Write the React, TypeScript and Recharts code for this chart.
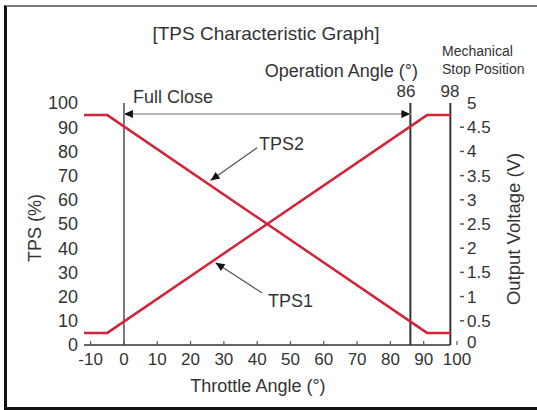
import { Line, LineChart, ReferenceLine, XAxis, YAxis } from "recharts";

// throttle angle (deg) at the break points of both sensor curves
const angles = [-12, -5, 91, 98];
const tps1 = [5, 5, 95, 95];
const tps2 = [95, 95, 5, 5];

const angleTicks = [-10, 0, 10, 20, 30, 40, 50, 60, 70, 80, 90, 100];
const tpsTicks = [0, 10, 20, 30, 40, 50, 60, 70, 80, 90, 100];
const voltTicks = [0, 0.5, 1, 1.5, 2, 2.5, 3, 3.5, 4, 4.5, 5];

const fullClose = 0;
const operationEnd = 86;
const mechanicalStop = 98;

const data = angles.map((angle, i) => ({ angle, tps1: tps1[i], tps2: tps2[i] }));

const RED = "#d1253c";
const INK = "#333";
const FONT = "'Liberation Sans', Arial, sans-serif";

function arrowShape(stroke: string, width: number, startHead: boolean, endHead: boolean) {
  return (p: any) => {
    const { x1, y1, x2, y2 } = p;
    const a = Math.atan2(y2 - y1, x2 - x1);
    const head = (x: number, y: number, dir: number) => {
      const len = 9;
      const half = 4;
      const bx = x - Math.cos(dir) * len;
      const by = y - Math.sin(dir) * len;
      const px = -Math.sin(dir) * half;
      const py = Math.cos(dir) * half;
      return <polygon points={`${x},${y} ${bx + px},${by + py} ${bx - px},${by - py}`} fill="#111" />;
    };
    return (
      <g>
        <line x1={x1} y1={y1} x2={x2} y2={y2} stroke={stroke} strokeWidth={width} />
        {startHead && head(x1, y1, a + Math.PI)}
        {endHead && head(x2, y2, a)}
      </g>
    );
  };
}

const AngleTick = (props: any) => {
  const { x, y, payload } = props;
  return (
    <g>
      <line x1={x} x2={x} y1={y - 4} y2={y} stroke="#555" strokeWidth={1.2} />
      <text x={x} y={y + 20} textAnchor="middle" fontSize={17} fill={INK} fontFamily={FONT}>
        {payload.value}
      </text>
    </g>
  );
};

const VoltTick = (props: any) => {
  const { x, y, payload } = props;
  const v = payload.value;
  const dash = v > 0 && v < 5;
  // the bottom label sits a little high so it clears the "100" angle tick
  const lift = v === 0 ? -3 : 0;
  return (
    <g>
      {dash && <line x1={x + 3} x2={x + 7} y1={y} y2={y} stroke="#555" strokeWidth={1.5} />}
      <text x={x + 10} y={y + lift} dy="0.35em" textAnchor="start" fontSize={17} fill={INK} fontFamily={FONT}>
        {v}
      </text>
    </g>
  );
};

export default function App() {
  return (
    <div style={{ position: "absolute", left: 0, top: 0, width: 537, height: 410, background: "#fff", overflow: "hidden" }}>
      <div
        style={{
          position: "absolute",
          left: 4,
          top: 5,
          width: 560,
          height: 400,
          borderLeft: "3px solid #111",
          borderTop: "2px solid #777",
          borderBottom: "3px solid #111"
        }}
      />
      <div style={{ position: "absolute", left: 0, top: 0 }}>
        <LineChart width={537} height={410} data={data} margin={{ top: 103, right: 40, bottom: 35, left: 24 }}>
          <XAxis
            dataKey="angle"
            type="number"
            domain={[-12, 100]}
            ticks={angleTicks}
            interval={0}
            axisLine={false}
            tickLine={false}
            tickSize={0}
            tickMargin={0}
            height={30}
            tick={<AngleTick />}
          />
          <YAxis
            yAxisId="tps"
            type="number"
            domain={[0, 100]}
            ticks={tpsTicks}
            interval={0}
            axisLine={false}
            tickLine={false}
            tickSize={0}
            tickMargin={6}
            width={60}
            tick={{ fontSize: 18, fill: INK, fontFamily: FONT }}
          />
          <YAxis
            yAxisId="volt"
            type="number"
            orientation="right"
            domain={[0, 5]}
            allowDataOverflow
            ticks={voltTicks}
            interval={0}
            axisLine={false}
            tickLine={false}
            tickSize={0}
            tickMargin={0}
            width={40}
            tick={<VoltTick />}
          />
          <ReferenceLine
            yAxisId="tps"
            segment={[{ x: -12, y: 0 }, { x: mechanicalStop, y: 0 }]}
            stroke="#666"
            strokeWidth={2}
          />
          <ReferenceLine yAxisId="tps" x={fullClose} stroke="#222" strokeWidth={1.2} />
          <ReferenceLine yAxisId="tps" x={operationEnd} stroke="#333" strokeWidth={2} />
          <ReferenceLine yAxisId="tps" x={mechanicalStop} stroke="#333" strokeWidth={2} />
          <ReferenceLine
            yAxisId="tps"
            segment={[{ x: fullClose, y: 95.5 }, { x: operationEnd, y: 95.5 }]}
            shape={arrowShape("#b5b5b5", 2, true, true)}
          />
          <ReferenceLine
            yAxisId="tps"
            segment={[{ x: 40, y: 81.5 }, { x: 26, y: 68 }]}
            shape={arrowShape("#555", 1.2, false, true)}
          />
          <ReferenceLine
            yAxisId="tps"
            segment={[{ x: 41.5, y: 21.5 }, { x: 27.5, y: 34 }]}
            shape={arrowShape("#555", 1.2, false, true)}
          />
          <Line yAxisId="tps" type="linear" dataKey="tps1" stroke={RED} strokeWidth={2.5} dot={false} isAnimationActive={false} />
          <Line yAxisId="tps" type="linear" dataKey="tps2" stroke={RED} strokeWidth={2.5} dot={false} isAnimationActive={false} />
        </LineChart>
      </div>
      <svg
        width={537}
        height={410}
        style={{ position: "absolute", left: 0, top: 0, pointerEvents: "none" }}
        fontFamily={FONT}
        fill={INK}
      >
        <text x={266} y={40} textAnchor="middle" fontSize={19}>[TPS Characteristic Graph]</text>
        <text x={418} y={77} textAnchor="end" fontSize={18}>Operation Angle (°)</text>
        <text x={442} y={56} fontSize={14}>Mechanical</text>
        <text x={442} y={74} fontSize={14}>Stop Position</text>
        <text x={406} y={97} textAnchor="middle" fontSize={17}>86</text>
        <text x={450} y={97} textAnchor="middle" fontSize={17}>98</text>
        <text x={133} y={103} fontSize={18}>Full Close</text>
        <text x={259} y={150} fontSize={18}>TPS2</text>
        <text x={268} y={307} fontSize={18}>TPS1</text>
        <text x={258} y={392} textAnchor="middle" fontSize={18}>Throttle Angle (°)</text>
        <text transform="translate(41 228) rotate(-90)" textAnchor="middle" fontSize={18}>TPS (%)</text>
        <text transform="translate(520 229) rotate(-90)" textAnchor="middle" fontSize={18.5}>Output Voltage (V)</text>
      </svg>
    </div>
  );
}
